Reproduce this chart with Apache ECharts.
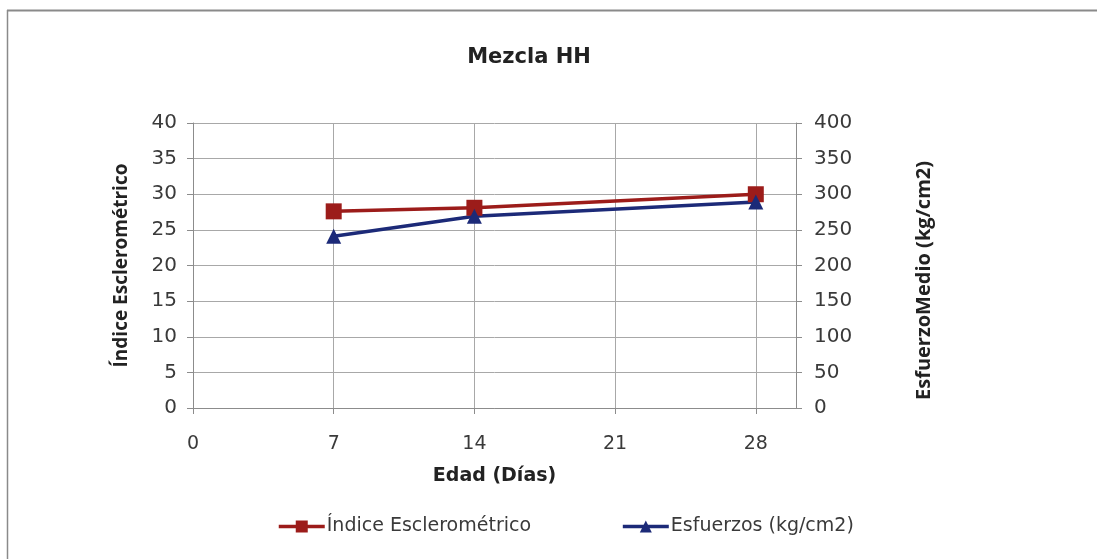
<!DOCTYPE html>
<html>
<head>
<meta charset="utf-8">
<script src="https://cdn.jsdelivr.net/npm/echarts@6/dist/echarts.min.js"></script>
<style>
  html, body { margin: 0; padding: 0; background: #fff; }
  #chart { width: 1097px; height: 559px; }
</style>
</head>
<body>
<div id="chart"></div>
<script>
// Edad en días de los ensayos
const edades = [7, 14, 28];
// Índice esclerométrico medido
const indice = [27.6, 28.1, 30.0];
// Esfuerzo medio (kg/cm2)
const esfuerzos = [241, 269, 289];

const serieIndice = 'Índice Esclerométrico';
const serieEsfuerzo = 'Esfuerzos (kg/cm2)';

const wideFont = '"DejaVu Sans", sans-serif';
const sideFont = '"Open Sans", sans-serif';
const axisGray = '#8c8c8c';
const gridGray = '#a8a8a8';
const labelColor = '#3a3a3a';

const chart = echarts.init(document.getElementById('chart'), null, { renderer: 'canvas' });

chart.setOption({
  backgroundColor: '#fff',
  animation: false,
  textStyle: { fontFamily: wideFont },
  graphic: [
    { type: 'line', shape: { x1: 7, y1: 10.5, x2: 1097, y2: 10.5 }, style: { stroke: '#8a8a8a', lineWidth: 2 } },
    { type: 'line', shape: { x1: 7.5, y1: 10, x2: 7.5, y2: 559 }, style: { stroke: '#8a8a8a', lineWidth: 1.5 } }
  ],
  title: {
    text: 'Mezcla HH',
    left: 524,
    top: 42,
    textAlign: 'center',
    textStyle: { fontFamily: wideFont, fontSize: 21, fontWeight: 'bold', color: '#222' }
  },
  legend: {
    bottom: 18,
    left: 272,
    itemGap: 90,
    itemWidth: 46,
    itemHeight: 15,
    lineStyle: { width: 3.5 },
    textStyle: { fontFamily: wideFont, fontSize: 19, color: '#3a3a3a', padding: [0, 0, 0, -3] },
    data: [serieIndice, serieEsfuerzo]
  },
  grid: { left: 193, right: 301, top: 123, bottom: 151 },
  xAxis: {
    type: 'value',
    min: 0,
    max: 30,
    interval: 7,
    name: 'Edad (Días)',
    nameLocation: 'middle',
    nameGap: 59,
    nameTextStyle: { fontFamily: wideFont, fontSize: 19, fontWeight: 'bold', color: '#222' },
    axisLine: { show: true, onZero: false, lineStyle: { color: axisGray } },
    axisTick: { show: true, length: 6, lineStyle: { color: axisGray } },
    axisLabel: {
      fontSize: 19, color: labelColor, margin: 27, showMaxLabel: false,
      formatter: v => (v % 7 === 0 ? String(v) : '')
    },
    splitLine: { show: true, lineStyle: { color: gridGray } }
  },
  yAxis: [
    {
      type: 'value',
      min: 0,
      max: 40,
      interval: 5,
      position: 'left',
      name: serieIndice,
      nameLocation: 'middle',
      nameRotate: 90,
      nameGap: 62,
      nameTextStyle: { fontFamily: sideFont, fontSize: 19, fontWeight: 'bold', color: '#222' },
      axisLine: { show: true, lineStyle: { color: axisGray } },
      axisTick: { show: true, length: 6, lineStyle: { color: axisGray } },
      axisLabel: { fontSize: 20, color: labelColor, margin: 16 },
      splitLine: { show: true, lineStyle: { color: gridGray } }
    },
    {
      type: 'value',
      min: 0,
      max: 400,
      interval: 50,
      position: 'right',
      name: 'EsfuerzoMedio (kg/cm2)',
      nameLocation: 'middle',
      nameRotate: 90,
      nameGap: 118,
      nameTextStyle: { fontFamily: sideFont, fontSize: 20, fontWeight: 'bold', color: '#222', padding: [0, 30, 0, 0] },
      axisLine: { show: true, lineStyle: { color: axisGray } },
      axisTick: { show: true, length: 6, lineStyle: { color: axisGray } },
      axisLabel: { fontSize: 20, color: labelColor, margin: 18 },
      splitLine: { show: false }
    }
  ],
  series: [
    {
      name: serieIndice,
      type: 'line',
      yAxisIndex: 0,
      data: edades.map((x, i) => [x, indice[i]]),
      symbol: 'rect',
      symbolSize: 16,
      color: '#9c1c1a',
      lineStyle: { width: 3.5, color: '#9c1c1a' },
      itemStyle: { color: '#9c1c1a' }
    },
    {
      name: serieEsfuerzo,
      type: 'line',
      yAxisIndex: 1,
      data: edades.map((x, i) => [x, esfuerzos[i]]),
      symbol: 'triangle',
      symbolSize: 15,
      color: '#1c2a78',
      lineStyle: { width: 3.5, color: '#1c2a78' },
      itemStyle: { color: '#1c2a78' }
    }
  ]
});
</script>
</body>
</html>
